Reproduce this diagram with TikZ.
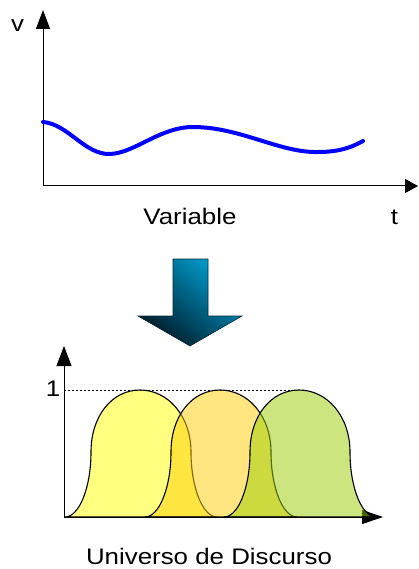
\documentclass[tikz,border=0pt]{standalone}
\usepackage{fontspec}
\setmainfont[FakeStretch=1.15]{Liberation Sans}
\usetikzlibrary{arrows.meta}
\definecolor{arrowlight}{RGB}{0,160,210}
\definecolor{arrowdark}{RGB}{0,25,38}
\definecolor{arrowedge}{RGB}{0,40,55}
\definecolor{bellA}{RGB}{255,255,0}
\definecolor{bellB}{RGB}{255,204,0}
\definecolor{bellC}{RGB}{153,204,0}
\tikzset{
  axis/.style={line width=1pt, black},
  axlbl/.style={inner sep=0pt, font=\fontsize{22.5}{27}\selectfont},
  bell/.style={draw=black, line width=1.1pt, fill opacity=0.5},
  signal/.style={line width=4pt, blue, line cap=round},
}
\newcommand{\bellpath}[1]{%
  (#1,517) .. controls (#1+14,517) and (#1+26,488) .. (#1+26,452)
  .. controls (#1+26,416) and (#1+47,390) .. (#1+75,390)
  .. controls (#1+103,390) and (#1+126,416) .. (#1+126,452)
  .. controls (#1+126,488) and (#1+138,517) .. (#1+152,517) -- cycle}
\begin{document}
\begin{tikzpicture}[x=1pt,y=-1pt]
\useasboundingbox (0,0) rectangle (418,569);
% top chart
\coordinate (o1) at (43,186);
\coordinate (ytop1) at (43,10);
\coordinate (xend1) at (418,186);
\draw[axis,-{Triangle[length=19pt,width=14pt]}] (o1) -- (ytop1);
\draw[axis,-{Triangle[length=13pt,width=14pt]}] (o1) -- (xend1);
\node[axlbl] (v) at (17.5,26) {v};
\node[axlbl,anchor=base] (t) at (394.5,224) {t};
\node[axlbl,anchor=base] (var) at (190,224) {Variable};
\draw[signal] (43,122) .. controls (68,124) and (85,155) .. (110,154)
  .. controls (135,153) and (160,127) .. (193,127)
  .. controls (240,127) and (280,153) .. (318,152)
  .. controls (340,152) and (352,147) .. (363,141);
% big arrow
\shade[top color=arrowlight, bottom color=arrowdark, shading angle=-40,
  draw=arrowedge, line width=0.6pt]
  (173,259) -- (208,259) -- (208,316) -- (242,316) -- (190,346)
  -- (138,316) -- (173,316) -- cycle;
% bottom chart
\coordinate (o2) at (64,517);
\coordinate (ytop2) at (64,346);
\coordinate (xend2) at (383,517);
\draw[axis,-{Triangle[length=20pt,width=15pt]}] (o2) -- (ytop2);
\draw[axis,-{Triangle[length=21pt,width=14pt]}] (o2) -- (xend2);
\coordinate (d1) at (64,390);
\coordinate (d2) at (300,390);
\draw[line width=0.8pt, dash pattern=on 2pt off 2pt] (d1) -- (d2);
\node[axlbl] (one) at (53,389) {1};
\path[bell, fill=bellA] \bellpath{65};
\path[bell, fill=bellB] \bellpath{145};
\path[bell, fill=bellC] \bellpath{224};
\node[axlbl,anchor=base] (ud) at (209,564) {Universo de Discurso};
\end{tikzpicture}
\end{document}
